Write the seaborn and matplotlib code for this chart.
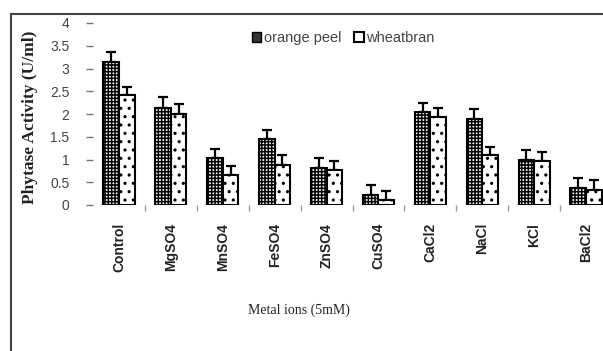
import matplotlib
matplotlib.use("Agg")
import matplotlib.pyplot as plt
import seaborn as sns
import pandas as pd
import numpy as np
from matplotlib.patches import Rectangle

categories = ["Control", "MgSO4", "MnSO4", "FeSO4", "ZnSO4", "CuSO4", "CaCl2", "NaCl", "KCl", "BaCl2"]
orange_peel = [3.15, 2.14, 1.03, 1.45, 0.81, 0.22, 2.05, 1.89, 1.00, 0.38]
orange_err = [0.21, 0.23, 0.20, 0.20, 0.22, 0.22, 0.20, 0.21, 0.20, 0.21]
wheat_bran = [2.42, 2.00, 0.66, 0.89, 0.77, 0.11, 1.93, 1.10, 0.97, 0.33]
wheat_err = [0.17, 0.22, 0.20, 0.20, 0.20, 0.20, 0.20, 0.18, 0.20, 0.22]
series = ["orange peel", "wheat bran"]
yticks = [0, 0.5, 1, 1.5, 2, 2.5, 3, 3.5, 4]
ytick_labels = ["0", "0.5", "1", "1.5", "2", "2.5", "3", "3.5", "4"]

sns.set_style("white")
plt.rcParams['font.family'] = ['Liberation Sans', 'DejaVu Sans']
plt.rcParams['hatch.linewidth'] = 1.1

df = pd.DataFrame({
    "ion": categories * 2,
    "activity": orange_peel + wheat_bran,
    "substrate": [series[0]] * len(categories) + [series[1]] * len(categories),
})

fig = plt.figure(figsize=(6.03, 3.51), dpi=100)
ax = fig.add_axes([93 / 603, 1 - 205 / 351, (612 - 93) / 603, (205 - 23) / 351])

sns.barplot(data=df, x="ion", y="activity", hue="substrate", order=categories,
            hue_order=series, palette=["white", "white"], width=0.6, gap=0,
            edgecolor="black", linewidth=1.5, errorbar=None, legend=False, ax=ax)

hatches = ["+++++", ".."]
errs = [orange_err, wheat_err]
bar_containers = list(ax.containers)
for ci, cont in enumerate(bar_containers):
    xs, ys = [], []
    for p in cont.patches:
        p.set_hatch(hatches[ci])
        p.set_zorder(2)
        xs.append(p.get_x() + p.get_width() / 2)
        ys.append(p.get_height())
    ax.errorbar(xs, ys, yerr=[np.zeros(len(ys)), errs[ci]], fmt="none",
                ecolor="black", elinewidth=1.6, capsize=3.5, capthick=1.6, zorder=1)

ax.set_ylim(0, 4)
ax.set_xlim(-0.5, len(categories) - 0.5)
ax.set_yticks(yticks)
ax.set_yticklabels(ytick_labels, fontsize=10, color="#444444")
ax.tick_params(axis="y", which="major", left=True, length=5, width=1, color="#777777", pad=12)
ax.set_xticks(range(len(categories)))
ax.set_xticklabels(categories, rotation=90, fontsize=10, fontweight="bold", color="#222222", va="top")
ax.tick_params(axis="x", which="major", length=0, pad=13)
ax.set_xticks(np.arange(0.5, len(categories) - 0.5, 1), minor=True)
ax.tick_params(axis="x", which="minor", bottom=True, length=4, width=1, color="#999999", direction="out")
for s in ax.spines.values():
    s.set_visible(False)

ax.set_ylabel("Phytase Activity (U/ml)", family=["Liberation Serif", "DejaVu Serif"],
              fontweight="bold", fontsize=12.5, color="#222222")
ax.set_xlabel("Metal ions (5mM)", family=["Liberation Serif", "DejaVu Serif"],
              fontsize=10, color="#222222")
ax.yaxis.set_label_coords((38 - 93) / 519, (205 - 117) / 182)
ax.xaxis.set_label_coords(0.397, -0.54)

handles = [Rectangle((0, 0), 1, 1, facecolor="#333333", edgecolor="black", lw=1),
           Rectangle((0, 0), 1, 1, facecolor="white", edgecolor="black", lw=1.5)]
fig.legend(handles, ["orange peel", "wheatbran"], loc="center", bbox_to_anchor=(343 / 603, 1 - 38 / 351),
           ncol=2, frameon=False, fontsize=10.5, handlelength=0.65, handleheight=0.65,
           handletextpad=0.15, columnspacing=0.9, labelcolor="#444444")

border = Rectangle((11 / 603, -0.2), 1.2, 1.2 - 14 / 351, transform=fig.transFigure,
                   fill=False, edgecolor="#444444", lw=1.5, clip_on=False)
fig.add_artist(border)

fig.savefig("out.png", dpi=100)
